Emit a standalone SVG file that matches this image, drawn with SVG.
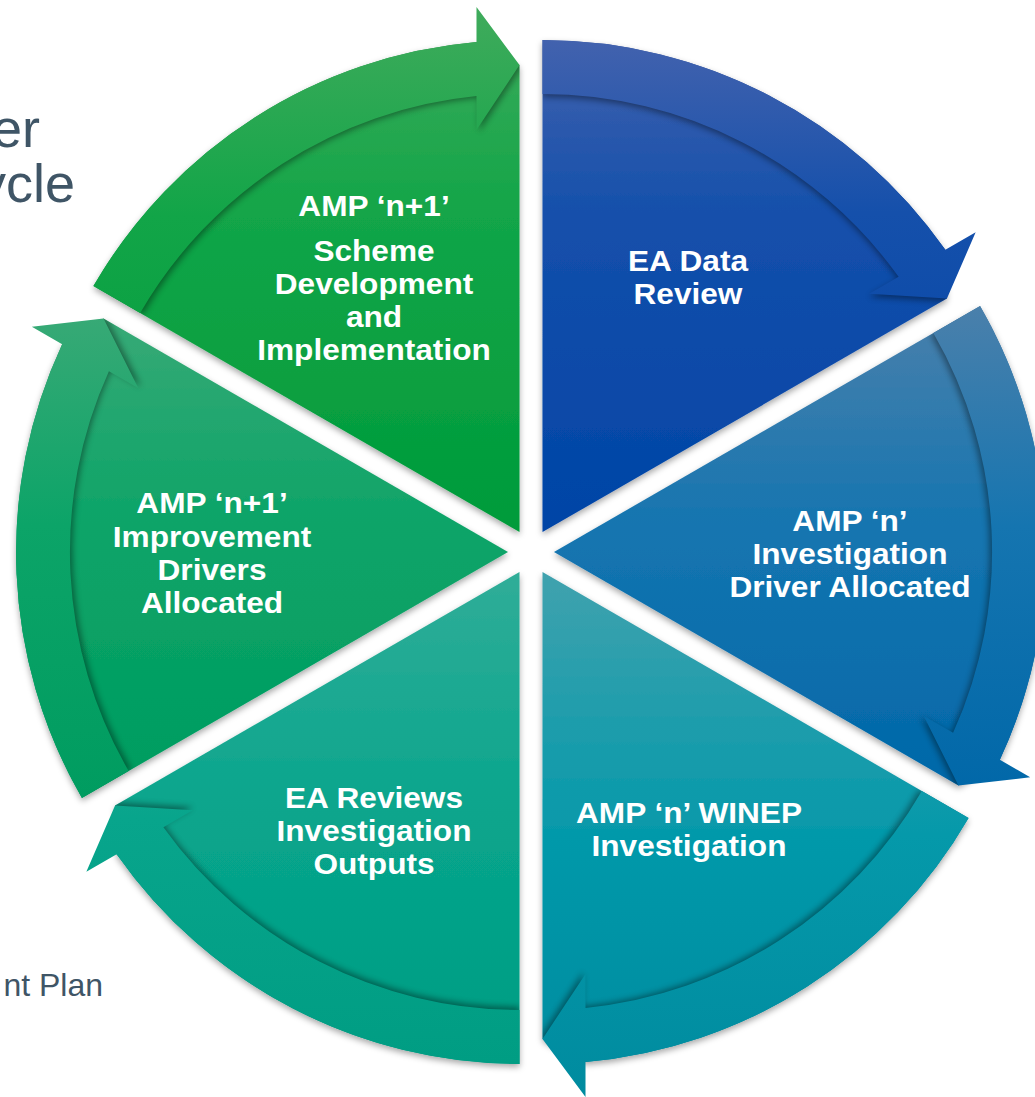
<svg xmlns="http://www.w3.org/2000/svg" xmlns:xlink="http://www.w3.org/1999/xlink" width="1035" height="1097" viewBox="0 0 1035 1097">
  <style>
    .lbl { font-family: "Liberation Sans", Arial, sans-serif; font-weight: bold; font-size: 29px; fill: #ffffff; text-anchor: middle; }
    .bg { font-family: "Liberation Sans", Arial, sans-serif; fill: #3f5566; text-anchor: end; }
  </style>
  <defs>
    <path id="body" d="M0,0 L0,-492 A492,492 0 0 1 402.84,-282.24 L404.43,-233.5 Z"/>
    <path id="band" d="M0,-492 A492,492 0 0 1 402.84,-282.24 L433.15,-299.74 L404.43,-233.5 L326.63,-238.24 L356.08,-255.24 A438,438 0 0 0 0,-438 Z"/>
    <clipPath id="clipBody"><path d="M0,0 L0,-492 A492,492 0 0 1 402.84,-282.24 L404.43,-233.5 Z"/></clipPath>
    <filter id="ds" x="-10%" y="-10%" width="120%" height="120%">
      <feDropShadow dx="0" dy="3" stdDeviation="3" flood-color="#000" flood-opacity="0.35"/>
    </filter>
    <filter id="blur" x="-10%" y="-10%" width="120%" height="120%">
      <feGaussianBlur stdDeviation="3"/>
    </filter>
    <linearGradient id="g0" gradientUnits="userSpaceOnUse" x1="0" y1="-492" x2="0" y2="0">
      <stop offset="0" stop-color="#4262ae"/><stop offset="0.35" stop-color="#1550ab"/><stop offset="1" stop-color="#0044a6"/>
    </linearGradient>
    <linearGradient id="g1" gradientUnits="userSpaceOnUse" x1="0" y1="-250" x2="0" y2="250" gradientTransform="rotate(-60)">
      <stop offset="0" stop-color="#4b80ab"/><stop offset="0.45" stop-color="#1575b0"/><stop offset="1" stop-color="#0067a8"/>
    </linearGradient>
    <linearGradient id="g2" gradientUnits="userSpaceOnUse" x1="0" y1="0" x2="0" y2="525" gradientTransform="rotate(-120)">
      <stop offset="0" stop-color="#40a2ae"/><stop offset="0.5" stop-color="#0599aa"/><stop offset="1" stop-color="#008b9f"/>
    </linearGradient>
    <linearGradient id="g3" gradientUnits="userSpaceOnUse" x1="0" y1="0" x2="0" y2="492" gradientTransform="rotate(-180)">
      <stop offset="0" stop-color="#30ad98"/><stop offset="0.5" stop-color="#08a58c"/><stop offset="1" stop-color="#009d83"/>
    </linearGradient>
    <linearGradient id="g4" gradientUnits="userSpaceOnUse" x1="0" y1="-300" x2="0" y2="246" gradientTransform="rotate(-240)">
      <stop offset="0" stop-color="#45ab7a"/><stop offset="0.5" stop-color="#0ca468"/><stop offset="1" stop-color="#009c60"/>
    </linearGradient>
    <linearGradient id="g5" gradientUnits="userSpaceOnUse" x1="0" y1="-527" x2="0" y2="0" gradientTransform="rotate(-300)">
      <stop offset="0" stop-color="#40ab5c"/><stop offset="0.4" stop-color="#12a548"/><stop offset="1" stop-color="#009b3a"/>
    </linearGradient>
  </defs>

  <rect width="1035" height="1097" fill="#ffffff"/>

  <text class="bg" x="40" y="147" font-size="54">er</text>
  <text class="bg" x="75" y="202" font-size="54">ycle</text>
  <text class="bg" x="103" y="996" font-size="32">nt Plan</text>

  <g id="nodes">
    <g id="node-ea-data-review">
      <g filter="url(#ds)"><use href="#body" transform="translate(542.5 532.08) rotate(0)" fill="url(#g0)"/></g>
      <g transform="translate(688 0) scale(1.09 1)"><text class="lbl"><tspan x="0" y="271">EA Data</tspan><tspan x="0" y="304">Review</tspan></text></g>
    </g>
    <g id="node-investigation-driver">
      <g filter="url(#ds)"><use href="#body" transform="translate(554 552) rotate(60)" fill="url(#g1)"/></g>
      <g transform="translate(850 0) scale(1.09 1)"><text class="lbl"><tspan x="0" y="531">AMP ‘n’</tspan><tspan x="0" y="564">Investigation</tspan><tspan x="0" y="597">Driver Allocated</tspan></text></g>
    </g>
    <g id="node-winep-investigation">
      <g filter="url(#ds)"><use href="#body" transform="translate(542.5 571.92) rotate(120)" fill="url(#g2)"/></g>
      <g transform="translate(689 0) scale(1.09 1)"><text class="lbl"><tspan x="0" y="823">AMP ‘n’ WINEP</tspan><tspan x="0" y="856">Investigation</tspan></text></g>
    </g>
    <g id="node-ea-reviews-outputs">
      <g filter="url(#ds)"><use href="#body" transform="translate(519.5 571.92) rotate(180)" fill="url(#g3)"/></g>
      <g transform="translate(374 0) scale(1.09 1)"><text class="lbl"><tspan x="0" y="808">EA Reviews</tspan><tspan x="0" y="841">Investigation</tspan><tspan x="0" y="874">Outputs</tspan></text></g>
    </g>
    <g id="node-improvement-drivers">
      <g filter="url(#ds)"><use href="#body" transform="translate(508 552) rotate(240)" fill="url(#g4)"/></g>
      <g transform="translate(212 0) scale(1.09 1)"><text class="lbl"><tspan x="0" y="513">AMP ‘n+1’</tspan><tspan x="0" y="547">Improvement</tspan><tspan x="0" y="580">Drivers</tspan><tspan x="0" y="613">Allocated</tspan></text></g>
    </g>
    <g id="node-scheme-development">
      <g filter="url(#ds)"><use href="#body" transform="translate(519.5 532.08) rotate(300)" fill="url(#g5)"/></g>
      <g transform="translate(374 0) scale(1.09 1)"><text class="lbl"><tspan x="0" y="216">AMP ‘n+1’</tspan><tspan x="0" y="261">Scheme</tspan><tspan x="0" y="294">Development</tspan><tspan x="0" y="327">and</tspan><tspan x="0" y="360">Implementation</tspan></text></g>
    </g>
  </g>

  <g id="connectors">
    <g transform="translate(542.5 532.08) rotate(0)">
      <g clip-path="url(#clipBody)"><use href="#band" transform="translate(0 3)" fill="#000" opacity="0.4" filter="url(#blur)"/></g>
      <use href="#band" fill="url(#g0)"/>
    </g>
    <g transform="translate(554 552) rotate(60)">
      <g clip-path="url(#clipBody)"><use href="#band" transform="translate(0 3)" fill="#000" opacity="0.4" filter="url(#blur)"/></g>
      <use href="#band" fill="url(#g1)"/>
    </g>
    <g transform="translate(542.5 571.92) rotate(120)">
      <g clip-path="url(#clipBody)"><use href="#band" transform="translate(0 3)" fill="#000" opacity="0.4" filter="url(#blur)"/></g>
      <use href="#band" fill="url(#g2)"/>
    </g>
    <g transform="translate(519.5 571.92) rotate(180)">
      <g clip-path="url(#clipBody)"><use href="#band" transform="translate(0 3)" fill="#000" opacity="0.4" filter="url(#blur)"/></g>
      <use href="#band" fill="url(#g3)"/>
    </g>
    <g transform="translate(508 552) rotate(240)">
      <g clip-path="url(#clipBody)"><use href="#band" transform="translate(0 3)" fill="#000" opacity="0.4" filter="url(#blur)"/></g>
      <use href="#band" fill="url(#g4)"/>
    </g>
    <g transform="translate(519.5 532.08) rotate(300)">
      <g clip-path="url(#clipBody)"><use href="#band" transform="translate(0 3)" fill="#000" opacity="0.4" filter="url(#blur)"/></g>
      <use href="#band" fill="url(#g5)"/>
    </g>
  </g>
</svg>
